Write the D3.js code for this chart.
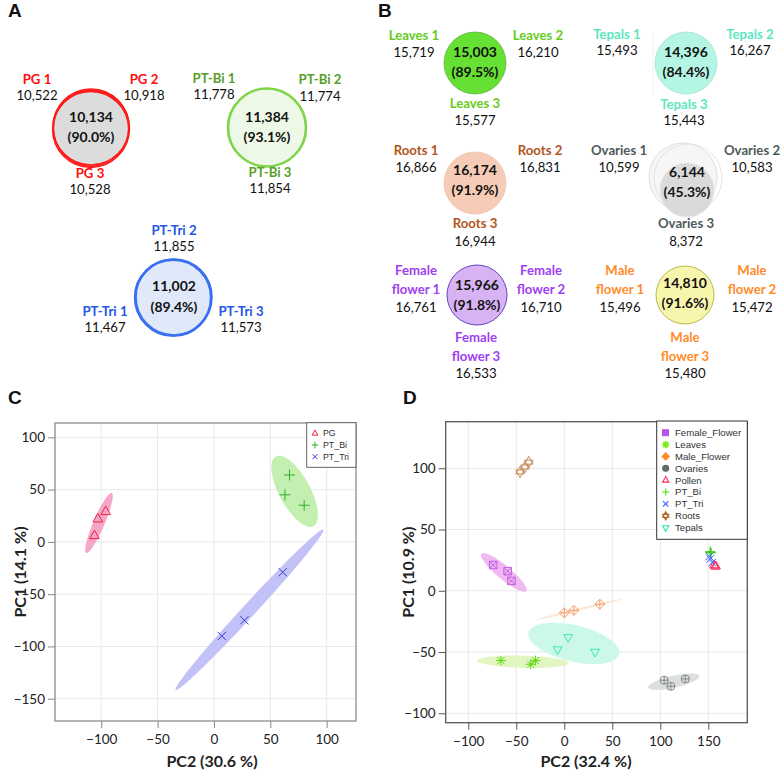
<!DOCTYPE html>
<html><head><meta charset="utf-8">
<script src="https://cdn.jsdelivr.net/npm/d3@7"></script>
<style>body{margin:0;background:#fff}svg{display:block}</style>
</head><body>
<svg id="fig" width="783" height="771"></svg>
<script>
// ================= DATA =================
// Venn panels (A, B)
const vennGroups = ["PG","PT-Bi","PT-Tri","Leaves","Tepals","Roots","Ovaries","Female flower","Male flower"];
const vennRepCounts = [
  [10522,10918,10528],[11778,11774,11854],[11467,11855,11573],
  [15719,16210,15577],[15493,16267,15443],[16866,16831,16944],
  [10599,10583,8372],[16761,16710,16533],[15496,15472,15480]];
const vennShared = [10134,11384,11002,15003,14396,16174,6144,15966,14810];
const vennPercent = [90.0,93.1,89.4,89.5,84.4,91.9,45.3,91.8,91.6];

// PCA panel C
const groupsC = ["PG","PT_Bi","PT_Tri"];
const pc2C = [[-106,-103,-96],[67,63,80],[61,7,27]];
const pc1C = [[6,22,29],[64,45,35],[-29,-90,-75]];
// confidence ellipses C: centre (pc2, pc1), semi-axes, angle (deg, data space)
const ellC_cx = [-102,71.6,31.5];
const ellC_cy = [18,48.4,-64.9];
const ellC_a = [30.8,37.3,100.8];
const ellC_b = [5,14,6];
const ellC_ang = [68.5,-64,49.5];
const xTicksC = [-100,-50,0,50,100];
const yTicksC = [-150,-100,-50,0,50,100];

// PCA panel D
const groupsD = ["Female_Flower","Leaves","Male_Flower","Ovaries","Pollen","PT_Bi","PT_Tri","Roots","Tepals"];
const pc2D = [[-74,-59,-55],[-66,-35,-30],[0,10,37],[104,111,126],[156,157,158],[152,153,152],[151,154,152],[-46,-41,-37],[4,-7,32]];
const pc1D = [[21,16,8],[-57,-60,-57],[-18,-16,-11],[-73,-78,-72],[21,20,20],[32,31,31],[28,23,26],[97,101,105],[-38,-48,-50]];
const ellD_groups = ["Female_Flower","Leaves","Male_Flower","Ovaries","Tepals"];
const ellD_cx = [-63,-43,16,114,10];
const ellD_cy = [15,-58,-15,-74.3,-43];
const ellD_a = [28,47.5,46,27,48];
const ellD_b = [6,5,1,5,15];
const ellD_ang = [-32.3,-1.2,10.7,9.9,-9.8];
const xTicksD = [-100,-50,0,50,100,150];
const yTicksD = [-100,-50,0,50,100];

// ================= STYLE / LAYOUT =================
const svg = d3.select("#fig");
const FONT = "Lato, 'Open Sans', sans-serif";
const fmt = d3.format(",");
const pctFmt = v => "(" + d3.format(".1f")(v) + "%)";
const LFS = 13.2; // venn label font size

const vennStyle = [
  {col:"#ff0d0d", fill:"#dcdcdc", stroke:"#ff1a1a", sw:1.6, offs:[[0,0],[0.4,1.4],[-0.3,2.4]], c:[91,127,38], t:[122,142],
   lab:[[37,84,100],[144,84,100],[90,178,194]]},
  {col:"#5a9e2a", fill:"#eef8e6", stroke:"#7fd448", sw:1.4, offs:[[0,0],[0.6,0.8],[-0.6,0.8]], c:[267,127,39], t:[122,142],
   lab:[[214,83,99],[320,84,101],[270,177,193]]},
  {col:"#2456e8", fill:"#dfe9fa", stroke:"#3a6ff0", sw:1.6, offs:[[0,0],[-1.4,0.4],[-0.7,1.2]], c:[174,297,38], t:[291,312],
   lab:[[105,316,332],[174,235,251],[241,316,332]]},
  {col:"#66cc22", fill:"#66e033", stroke:"#4fa32a", sw:0.6, offs:[[0,0]], c:[475,63,31], t:[57,77],
   lab:[[414,40,57],[538,40,57],[475,108,125]]},
  {col:"#5ce6c0", fill:"#b5f5e4", stroke:"#9adcc8", sw:0.6, offs:[[0,0]], c:[686,63,31], t:[57,77],
   lab:[[617,39,55],[750,39,55],[684,109,125]]},
  {col:"#b0561e", fill:"#f6ccb6", stroke:"#eab9a0", sw:0.6, offs:[[0,0]], c:[475,183,31], t:[175,195],
   lab:[[416,155,172],[540,155,172],[475,228,246]]},
  {col:"#4f5a5a", fill:"#dadada", stroke:"#e6e6e6", sw:1, offs:[[0,0]], c:[687,190,27], t:[177,197],
   lab:[[619,155,172],[752,155,172],[686,228,246]]},
  {col:"#a040f0", fill:"#d8b3f3", stroke:"#5533bb", sw:0.9, offs:[[0,0]], c:[477,295,30], t:[290,310],
   lab:[[416,275,312],[541,275,312],[476,342,378]], two:true},
  {col:"#ff8c2a", fill:"#f8f5ad", stroke:"#a8a82a", sw:0.8, offs:[[0,0]], c:[685,295,29], t:[288,308],
   lab:[[620,275,312],[752,275,312],[685,342,378]], two:true}
];

// panel letters
[["A",8,17],["B",378,17],["C",8,404],["D",403,404]].forEach(([L,x,y]) =>
  svg.append("text").attr("x",x).attr("y",y).text(L)
    .attr("font-family","'Liberation Sans', Arial, sans-serif").attr("font-weight","bold")
    .attr("font-size",19).attr("fill","#111"));

// ================= VENN PANELS =================
// Ovaries: two large replicate circles behind the intersection
const ovG = svg.append("g");
ovG.append("circle").attr("cx",683).attr("cy",177).attr("r",34).attr("fill","#f6f6f6").attr("stroke","#e0e0e0").attr("stroke-width",1);
ovG.append("circle").attr("cx",688).attr("cy",178).attr("r",34).attr("fill","none").attr("stroke","#e4e4e4").attr("stroke-width",1);
// faint frame line next to tepals
svg.append("line").attr("x1",653).attr("x2",653).attr("y1",33).attr("y2",96).attr("stroke","#ececec").attr("stroke-width",0.8);

vennGroups.forEach((name,i) => {
  const s = vennStyle[i];
  const g = svg.append("g");
  const [cx,cy,r] = s.c;
  g.append("circle").attr("cx",cx).attr("cy",cy).attr("r",r).attr("fill",s.fill);
  s.offs.forEach(([dx,dy]) => g.append("circle").attr("cx",cx+dx).attr("cy",cy+dy).attr("r",r)
      .attr("fill","none").attr("stroke",s.stroke).attr("stroke-width",s.sw));
  g.append("text").attr("x",cx).attr("y",s.t[0]).attr("text-anchor","middle").text(fmt(vennShared[i]))
    .attr("font-family",FONT).attr("font-weight","bold").attr("font-size",14).attr("fill","#111");
  g.append("text").attr("x",cx).attr("y",s.t[1]).attr("text-anchor","middle").text(pctFmt(vennPercent[i]))
    .attr("font-family",FONT).attr("font-weight","bold").attr("font-size",14).attr("fill","#111");
  vennRepCounts[i].forEach((v,k) => {
    const [lx,ly,ny] = s.lab[k];
    const label = name + " " + (k+1);
    if (s.two) {
      const sp = label.indexOf(" ");
      [label.slice(0,sp), label.slice(sp+1)].forEach((part,j) =>
        g.append("text").attr("x",lx).attr("y",ly + j*19).attr("text-anchor","middle").text(part)
          .attr("font-family",FONT).attr("font-weight","bold").attr("font-size",LFS).attr("fill",s.col));
    } else {
      g.append("text").attr("x",lx).attr("y",ly).attr("text-anchor","middle").text(label)
        .attr("font-family",FONT).attr("font-weight","bold").attr("font-size",LFS).attr("fill",s.col);
    }
    g.append("text").attr("x",lx).attr("y",ny).attr("text-anchor","middle").text(fmt(v))
      .attr("font-family",FONT).attr("font-size",LFS).attr("fill","#111");
  });
});

// ================= SYMBOLS =================
function symPath(type,x,y,h){
  const t = h*0.87;
  switch(type){
    case "triUp": return `M${x},${y-h}L${x+t},${y+h*0.55}L${x-t},${y+h*0.55}Z`;
    case "triDown": return `M${x},${y+h}L${x+t},${y-h*0.55}L${x-t},${y-h*0.55}Z`;
    case "plus": return `M${x-h},${y}L${x+h},${y}M${x},${y-h}L${x},${y+h}`;
    case "cross": { const c=h*0.75; return `M${x-c},${y-c}L${x+c},${y+c}M${x-c},${y+c}L${x+c},${y-c}`; }
    case "squareX": { const c=h*0.75; return `M${x-c},${y-c}H${x+c}V${y+c}H${x-c}ZM${x-c},${y-c}L${x+c},${y+c}M${x-c},${y+c}L${x+c},${y-c}`; }
    case "asterisk": { const c=h*0.72; return `M${x-h},${y}L${x+h},${y}M${x},${y-h}L${x},${y+h}M${x-c},${y-c}L${x+c},${y+c}M${x-c},${y+c}L${x+c},${y-c}`; }
    case "diamondPlus": return `M${x},${y-h}L${x+h},${y}L${x},${y+h}L${x-h},${y}ZM${x-h},${y}L${x+h},${y}M${x},${y-h}L${x},${y+h}`;
    case "circlePlus": { const c=h*0.8; return `M${x-c},${y}A${c},${c} 0 1,0 ${x+c},${y}A${c},${c} 0 1,0 ${x-c},${y}ZM${x-c},${y}L${x+c},${y}M${x},${y-c}L${x},${y+c}`; }
    case "hexagram": return symPath("triUp",x,y-h*0.15,h)+symPath("triDown",x,y+h*0.15,h);
  }
}
function ellipsePath(xs,ys,cx,cy,a,b,angDeg){
  const th = angDeg*Math.PI/180, u=[Math.cos(th),Math.sin(th)], v=[-Math.sin(th),Math.cos(th)];
  const pts = d3.range(0,97).map(i => { const t=i/96*2*Math.PI;
    return [xs(cx + a*Math.cos(t)*u[0] + b*Math.sin(t)*v[0]), ys(cy + a*Math.cos(t)*u[1] + b*Math.sin(t)*v[1])]; });
  return d3.line()(pts)+"Z";
}

function pcaFrame(g, xs, ys, xt, yt, frameCol, xLabel, yLabel, xLabX, yLabX, clipId){
  const [x0,x1] = xs.range(), [y0,y1] = ys.range();
  g.append("rect").attr("x",x0).attr("y",y1).attr("width",x1-x0).attr("height",y0-y1).attr("fill","#fff");
  xt.forEach(v => g.append("line").attr("x1",xs(v)).attr("x2",xs(v)).attr("y1",y1).attr("y2",y0).attr("stroke","#e6e9ea").attr("stroke-width",1));
  yt.forEach(v => g.append("line").attr("y1",ys(v)).attr("y2",ys(v)).attr("x1",x0).attr("x2",x1).attr("stroke","#e6e9ea").attr("stroke-width",1));
  const ax = g.append("g").attr("transform",`translate(0,${y0})`)
    .call(d3.axisBottom(xs).tickValues(xt).tickSize(7).tickPadding(3).tickSizeOuter(0));
  const ay = g.append("g").attr("transform",`translate(${x0},0)`)
    .call(d3.axisLeft(ys).tickValues(yt).tickSize(7).tickPadding(3).tickSizeOuter(0));
  [ax,ay].forEach(a => { a.select(".domain").remove();
    a.selectAll("line").attr("stroke",frameCol);
    a.selectAll("text").attr("font-family",FONT).attr("font-size",13.5).attr("fill","#222"); });
  ax.selectAll("text").attr("dy","0.95em");
  svg.append("defs").append("clipPath").attr("id",clipId).append("rect")
    .attr("x",x0).attr("y",y1).attr("width",x1-x0).attr("height",y0-y1);
  g.append("text").attr("x",xLabX).attr("y",767).attr("text-anchor","middle").text(xLabel)
    .attr("font-family",FONT).attr("font-weight","bold").attr("font-size",16).attr("fill","#222");
  g.append("text").attr("transform",`translate(${yLabX},${(y0+y1)/2}) rotate(-90)`).attr("text-anchor","middle").text(yLabel)
    .attr("font-family",FONT).attr("font-weight","bold").attr("font-size",16).attr("fill","#222");
}

// ================= PANEL C =================
const xC = d3.scaleLinear().domain([-141,126]).range([55,356]);
const yC = d3.scaleLinear().domain([-171.3,113.7]).range([721,423]);
const gC = svg.append("g");
pcaFrame(gC, xC, yC, xTicksC, yTicksC, "#888", "PC2 (30.6 %)", "PC1 (14.1 %)", 212, 26, "clipC");
const colC = ["#ee2244","#2fb02f","#3b3be0"];
const ellColC = ["#f6a6c6","#c3efb0","#c2c2f8"];
const symC = ["triUp","plus","cross"];
const pC = gC.append("g").attr("clip-path","url(#clipC)");
groupsC.forEach((gname,i) => {
  pC.append("path").attr("d",ellipsePath(xC,yC,ellC_cx[i],ellC_cy[i],ellC_a[i],ellC_b[i],ellC_ang[i]))
    .attr("fill",ellColC[i]).attr("stroke","none");
});
groupsC.forEach((gname,i) => {
  pc2C[i].forEach((v,k) => pC.append("path").attr("d",symPath(symC[i],xC(v),yC(pc1C[i][k]),5.5))
    .attr("fill","none").attr("stroke",colC[i]).attr("stroke-width",1));
});
gC.append("rect").attr("x",55).attr("y",423).attr("width",301).attr("height",298)
  .attr("fill","none").attr("stroke","#8c8c8c").attr("stroke-width",1.3);
// legend C
const lgC = gC.append("g");
lgC.append("rect").attr("x",306.7).attr("y",422.7).attr("width",49.3).attr("height",44.6).attr("fill","#fff").attr("stroke","#555").attr("stroke-width",0.9);
groupsC.forEach((gname,i) => {
  const yy = 433.3 + i*11.7;
  lgC.append("path").attr("d",symPath(symC[i],315,yy,3.3)).attr("fill","none").attr("stroke",colC[i]).attr("stroke-width",1);
  lgC.append("text").attr("x",323).attr("y",yy+3).text(gname).attr("font-family","'Liberation Sans', Arial, sans-serif")
    .attr("font-size",8.8).attr("fill","#333");
});

// ================= PANEL D =================
const xD = d3.scaleLinear().domain([-123.5,190.6]).range([445.7,747.3]);
const yD = d3.scaleLinear().domain([-107.7,138]).range([722.7,421.7]);
const gD = svg.append("g");
pcaFrame(gD, xD, yD, xTicksD, yTicksD, "#555", "PC2 (32.4 %)", "PC1 (10.9 %)", 586, 414, "clipD");
const colD = {Female_Flower:"#c05ae0",Leaves:"#5fd80f",Male_Flower:"#f5a06a",Ovaries:"#7d8a8a",Pollen:"#ff2a5a",
  PT_Bi:"#3ccc14",PT_Tri:"#3a5cff",Roots:"#c88e58",Tepals:"#3de3b3"};
const legColD = {Female_Flower:"#b455e6",Leaves:"#77ee11",Male_Flower:"#ff8a2a",Ovaries:"#5f6b6b",Pollen:"#ff2a5a",
  PT_Bi:"#44dd11",PT_Tri:"#3a5cff",Roots:"#b0651f",Tepals:"#33e0b0"};
const symD = {Female_Flower:"squareX",Leaves:"asterisk",Male_Flower:"diamondPlus",Ovaries:"circlePlus",Pollen:"triUp",
  PT_Bi:"plus",PT_Tri:"cross",Roots:"hexagram",Tepals:"triDown"};
const ellColD = {Female_Flower:"#f1b9f2",Leaves:"#e2f6c2",Male_Flower:"#fce6d6",Ovaries:"#dedede",Tepals:"#ccf8ea"};
const pD = gD.append("g").attr("clip-path","url(#clipD)");
ellD_groups.forEach((gname,i) => {
  pD.append("path").attr("d",ellipsePath(xD,yD,ellD_cx[i],ellD_cy[i],ellD_a[i],ellD_b[i],ellD_ang[i]))
    .attr("fill",ellColD[gname]).attr("stroke","none");
});
groupsD.forEach((gname,i) => {
  pc2D[i].forEach((v,k) => pD.append("path").attr("d",symPath(symD[gname],xD(v),yD(pc1D[i][k]),5))
    .attr("fill","none").attr("stroke",colD[gname]).attr("stroke-width",1));
});
gD.append("rect").attr("x",445.7).attr("y",421.7).attr("width",301.6).attr("height",301)
  .attr("fill","none").attr("stroke","#555").attr("stroke-width",1.3);
// legend D
const lgD = gD.append("g");
lgD.append("rect").attr("x",656.7).attr("y",421).attr("width",90.6).attr("height",118.3).attr("fill","#fff").attr("stroke","#333").attr("stroke-width",1);
const filledD = {squareX:true,diamondPlus:true,circlePlus:true,hexagram:true};
groupsD.forEach((gname,i) => {
  const yy = 432.7 + i*11.87, t = symD[gname], c = legColD[gname];
  let d;
  if (t==="squareX") d = `M662.5,${yy-3}h6v6h-6Z`;
  else if (t==="diamondPlus") d = `M665.7,${yy-3.6}l3.6,3.6l-3.6,3.6l-3.6,-3.6Z`;
  else if (t==="circlePlus") d = `M662.7,${yy}a3,3 0 1,0 6,0a3,3 0 1,0 -6,0Z`;
  else d = symPath(t,665.7,yy,3.6);
  lgD.append("path").attr("d",d).attr("fill",filledD[t]?c:"none").attr("stroke",c).attr("stroke-width",t==="asterisk"?1.6:1.1);
  lgD.append("text").attr("x",675).attr("y",yy+3.4).text(gname).attr("font-family","'Liberation Sans', Arial, sans-serif")
    .attr("font-size",9.6).attr("fill","#333");
});
</script>
</body></html>
